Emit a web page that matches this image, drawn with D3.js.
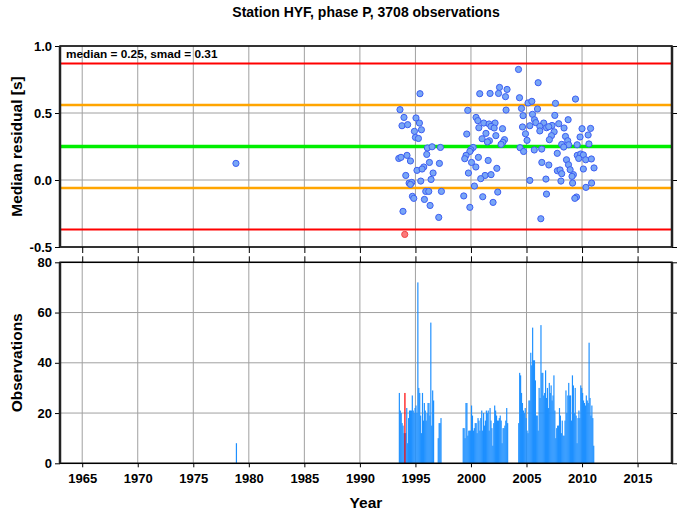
<!DOCTYPE html>
<html><head><meta charset="utf-8">
<script src="https://cdn.jsdelivr.net/npm/d3@7"></script>
<style>
body{margin:0;background:#fff;}
svg{display:block;font-family:"Liberation Sans",Arial,Helvetica,sans-serif;font-weight:bold;}
</style></head>
<body>
<script>
// ---------- data ----------
const title = "Station HYF, phase P, 3708 observations";
const statsText = "median = 0.25, smad = 0.31";
const median = 0.25, smad = 0.31;
const xTicks = [1965,1970,1975,1980,1985,1990,1995,2000,2005,2010,2015];
const resTicks = [-0.5,0.0,0.5,1.0];
const obsTicks = [0,20,40,60,80];

// monthly median residuals (decimal year, seconds)
const resYears = [1978.84,
 1995.41,1993.61,1993.97,1995.05,1995.36,1993.79,1994.30,1994.91,1995.54,1995.00,1995.27,1996.08,1996.50,1997.25,1996.02,1993.50,1993.70,1994.24,1994.55,1996.26,1997.16,1995.75,1995.14,1995.60,1996.59,1994.13,1996.41,1995.48,1994.43,1994.67,1994.55,1995.93,1996.20,1997.34,1994.73,1994.85,1995.81,1996.32,1993.88,1997.10,
 2004.28,2002.57,2003.25,2000.79,2001.72,2002.48,2003.11,2004.37,1999.71,2003.16,2004.55,2000.46,2000.62,2001.15,2001.63,2002.17,2000.71,2001.80,2002.09,2002.84,2001.35,2002.24,1999.62,2001.00,2001.66,2001.48,2003.02,2002.87,2002.71,2000.20,1999.99,1999.90,2004.42,1999.56,1999.44,2000.67,2001.55,2000.05,2000.44,2002.33,1999.77,2001.27,2001.81,2000.88,2000.31,2002.41,1999.35,2001.06,2001.99,1999.90,
 2006.05,2009.41,2005.14,2005.48,2007.61,2005.99,2004.69,2005.54,2007.55,2005.72,2005.84,2008.75,2006.55,2007.30,2007.90,2004.64,2005.30,2006.20,2006.80,2007.00,2008.38,2010.00,2010.77,2004.91,2006.20,2007.49,2007.25,2008.51,2009.82,2010.55,2005.05,2007.06,2008.71,2008.17,2008.80,2008.35,2009.56,2010.62,2004.74,2005.70,2006.37,2007.77,2009.57,2009.88,2010.12,2009.70,2010.33,2010.84,2008.60,2008.78,2006.38,2007.01,2008.93,2007.78,2008.02,2008.17,2009.22,2009.10,2010.12,2011.08,2006.75,2008.10,2005.30,2009.15,2010.86,2010.35,2006.80,2009.50,2009.35,2006.29];
const resValues = [0.124,
 0.644,0.525,0.467,0.463,0.425,0.405,0.413,0.363,0.375,0.318,0.310,0.239,0.248,0.243,0.191,0.161,0.169,0.184,0.142,0.131,0.124,0.097,0.072,0.082,0.052,0.034,0.004,-0.008,-0.023,-0.018,-0.033,-0.085,-0.085,-0.085,-0.122,-0.137,-0.145,-0.190,-0.234,-0.279,
 0.825,0.691,0.676,0.644,0.646,0.646,0.622,0.614,0.520,0.522,0.534,0.467,0.443,0.425,0.418,0.425,0.390,0.400,0.388,0.383,0.348,0.331,0.343,0.308,0.293,0.284,0.301,0.281,0.266,0.243,0.226,0.213,0.241,0.184,0.159,0.169,0.146,0.131,0.097,0.087,0.052,0.034,0.040,0.010,-0.045,-0.090,-0.119,-0.125,-0.167,-0.204,
 0.726,0.604,0.575,0.587,0.572,0.530,0.480,0.490,0.482,0.450,0.428,0.450,0.425,0.407,0.420,0.396,0.405,0.400,0.390,0.398,0.388,0.383,0.385,0.345,0.366,0.360,0.331,0.325,0.321,0.336,0.296,0.301,0.293,0.266,0.263,0.246,0.263,0.269,0.213,0.224,0.231,0.199,0.184,0.194,0.187,0.161,0.151,0.157,0.151,0.114,0.131,0.112,0.077,0.069,0.075,0.047,0.040,0.027,0.082,0.090,0.007,-0.008,-0.003,-0.023,-0.023,-0.055,-0.105,-0.127,-0.137,-0.289];
// outlier month (drawn red)
const outlierYears = [1994.04];
const outlierValues = [-0.406];

// monthly observation counts, one array per continuous run, with run start year
const runStarts = [1978.83, 1993.5, 1997.0, 1999.25, 2004.25];
const obs1978 = [8];
const obs1993 = [28,21,20,16,15,12,12,12,22,8,18,21,21,21,27,21,20,22,23,20,72,30,28,19,12,28,17,24,21,17,20,24,24,19,56,15,29,25];
const obs1997 = [10,16,16,18];
const obs1999 = [14,14,10,24,24,11,13,13,13,23,19,13,14,16,16,12,18,17,13,18,21,13,20,15,17,21,20,21,13,22,17,14,7,16,23,21,19,17,17,18,19,17,8,14,14,15,17,22,16];
const obs2004 = [16,36,35,28,24,21,20,22,18,13,12,25,25,44,39,54,41,41,33,19,19,13,30,26,55,36,36,27,28,37,26,30,22,32,28,31,25,27,35,21,10,14,15,15,22,19,12,17,11,11,17,29,20,27,32,27,27,17,35,31,20,30,19,8,18,21,18,31,30,28,25,24,23,27,25,24,48,26,19,23,18,7];
const outlierBarYears = [1994.0];
const outlierBarCounts = [28];

// ---------- drawing ----------
const W = 678, H = 511;
const svg = d3.select("body").append("svg").attr("width", W).attr("height", H);

const x = d3.scaleLinear().domain([1963, 2018.1]).range([60, 672]);
const yR = d3.scaleLinear().domain([-0.5, 1.0]).range([247, 46]);
const yO = d3.scaleLinear().domain([0, 80]).range([463.3, 262.3]);

const gridCol = "#a0a0a0";
function panel(y, ticks, fmt) {
  const [y1, y0] = [y.range()[1], y.range()[0]];
  const g = svg.append("g");
  g.selectAll(".vx").data(xTicks).join("line")
    .attr("x1", d => x(d)).attr("x2", d => x(d)).attr("y1", y1).attr("y2", y0)
    .attr("stroke", gridCol).attr("stroke-width", 1);
  g.selectAll(".hy").data(ticks).join("line")
    .attr("x1", x.range()[0]).attr("x2", x.range()[1]).attr("y1", d => y(d)).attr("y2", d => y(d))
    .attr("stroke", gridCol).attr("stroke-width", 1);
  const left = d3.axisLeft(y).tickValues(ticks).tickFormat(fmt).tickSize(5).tickPadding(3);
  const la = svg.append("g").attr("transform", `translate(${x.range()[0]},0)`).call(left);
  la.select(".domain").remove();
  la.selectAll("text").attr("font-size", 13).attr("font-weight", "bold").attr("fill", "#000")
    .attr("font-family", '"Liberation Sans",Arial,sans-serif');
  la.selectAll("line").attr("stroke", "#000");
  const right = d3.axisRight(y).tickValues(ticks).tickFormat("").tickSize(5);
  const ra = svg.append("g").attr("transform", `translate(${x.range()[1]},0)`).call(right);
  ra.select(".domain").remove();
  return g;
}

const fmtR = d => d3.format(".1f")(d).replace("−", "-");
panel(yR, resTicks, fmtR);
panel(yO, obsTicks, d3.format("d"));

// top panel reference lines
const refLines = [
  {v: median + 2*smad, c: "#ff0000", w: 2},
  {v: median + smad, c: "#ffa500", w: 2.5},
  {v: median, c: "#00ee00", w: 3.5},
  {v: median - smad, c: "#ffa500", w: 2.5},
  {v: median - 2*smad, c: "#ff0000", w: 2}
];
svg.append("g").selectAll("line").data(refLines).join("line")
  .attr("x1", x.range()[0]).attr("x2", x.range()[1])
  .attr("y1", d => yR(d.v)).attr("y2", d => yR(d.v))
  .attr("stroke", d => d.c).attr("stroke-width", d => d.w);

// scatter
const pts = resYears.map((t, i) => ({t, v: resValues[i]}));
svg.append("g").selectAll("circle").data(pts).join("circle")
  .attr("cx", d => x(d.t)).attr("cy", d => yR(d.v)).attr("r", 3.1)
  .attr("fill", "#78a6f6").attr("stroke", "#3d5ef2").attr("stroke-width", 1);
const opts = outlierYears.map((t, i) => ({t, v: outlierValues[i]}));
svg.append("g").selectAll("circle").data(opts).join("circle")
  .attr("cx", d => x(d.t)).attr("cy", d => yR(d.v)).attr("r", 3.1)
  .attr("fill", "#fb7a7a").attr("stroke", "#f04848").attr("stroke-width", 1);

// bars
const runs = [obs1978, obs1993, obs1997, obs1999, obs2004];
const bars = [];
runs.forEach((arr, r) => arr.forEach((c, i) => bars.push({t: runStarts[r] + i/12, c})));
const bw = x(1/12) - x(0);
svg.append("g").selectAll("rect").data(bars).join("rect")
  .attr("x", d => x(d.t)).attr("width", d => d.t < 1990 ? 1.2 : bw + 0.25)
  .attr("y", d => yO(d.c)).attr("height", d => yO(0) - yO(d.c))
  .attr("fill", "#1e90ff");
const rbars = outlierBarYears.map((t, i) => ({t, c: outlierBarCounts[i]}));
svg.append("g").selectAll("rect").data(rbars).join("rect")
  .attr("x", d => x(d.t)).attr("width", 1.2)
  .attr("y", d => yO(d.c)).attr("height", d => yO(0) - yO(d.c))
  .attr("fill", "#ff0000");

// x axes
const xa1 = svg.append("g").attr("transform", `translate(0,${yR.range()[0]})`)
  .call(d3.axisBottom(x).tickValues(xTicks).tickFormat("").tickSize(6));
xa1.select(".domain").remove();
const xa2 = svg.append("g").attr("transform", `translate(0,${yO.range()[1]})`)
  .call(d3.axisTop(x).tickValues(xTicks).tickFormat("").tickSize(6));
xa2.select(".domain").remove();
const xa3 = svg.append("g").attr("transform", `translate(0,${yO.range()[0]})`)
  .call(d3.axisBottom(x).tickValues(xTicks).tickFormat(d3.format("d")).tickSize(4).tickPadding(6));
xa3.select(".domain").remove();
xa3.selectAll("text").attr("font-size", 13).attr("font-weight", "bold").attr("fill", "#000")
  .attr("font-family", '"Liberation Sans",Arial,sans-serif');

// frames
[yR, yO].forEach(y => {
  svg.append("rect").attr("x", x.range()[0]).attr("y", y.range()[1])
    .attr("width", x.range()[1] - x.range()[0]).attr("height", y.range()[0] - y.range()[1])
    .attr("fill", "none").attr("stroke", "#000").attr("stroke-width", 1.5);
  svg.append("line").attr("x1", x.range()[0]).attr("x2", x.range()[0])
    .attr("y1", y.range()[1]).attr("y2", y.range()[0]).attr("stroke", "#222").attr("stroke-width", 2.5);
  svg.append("line").attr("x1", x.range()[1]).attr("x2", x.range()[1])
    .attr("y1", y.range()[1]).attr("y2", y.range()[0]).attr("stroke", "#222").attr("stroke-width", 2.5);
});

// texts
svg.append("text").attr("x", 366).attr("y", 17).attr("text-anchor", "middle")
  .attr("font-size", 14).text(title);
svg.append("text").attr("x", 66).attr("y", 58).attr("font-size", 11.8).text(statsText);
svg.append("text").attr("transform", `translate(22,${(yR.range()[0]+yR.range()[1])/2}) rotate(-90)`)
  .attr("text-anchor", "middle").attr("font-size", 15.5).text("Median residual [s]");
svg.append("text").attr("transform", `translate(22,${(yO.range()[0]+yO.range()[1])/2}) rotate(-90)`)
  .attr("text-anchor", "middle").attr("font-size", 15.5).text("Observations");
svg.append("text").attr("x", 366).attr("y", 508).attr("text-anchor", "middle")
  .attr("font-size", 15.5).text("Year");
</script>
</body></html>
